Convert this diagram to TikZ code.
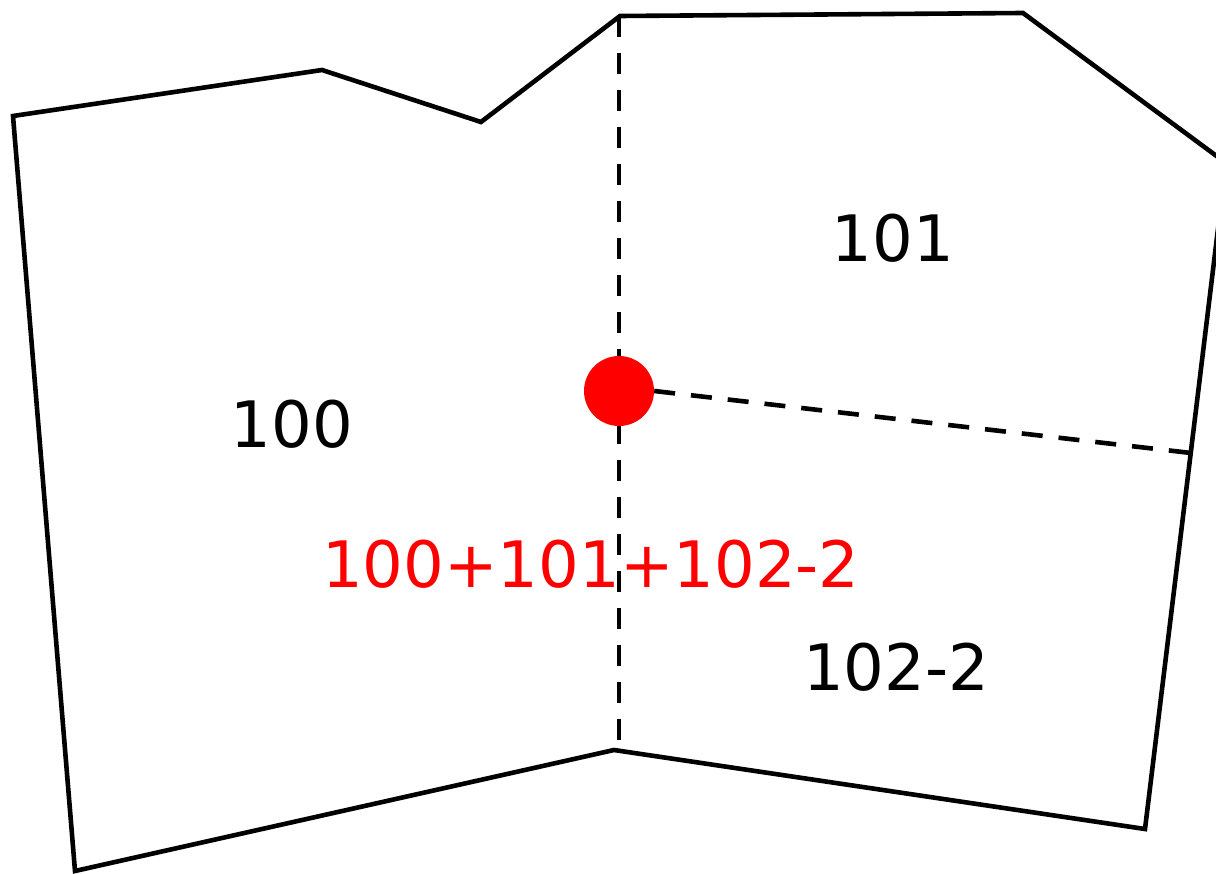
\documentclass[tikz,border=0pt]{standalone}
\usepackage{fontspec}
\setmainfont{DejaVu Sans}
\begin{document}
\begin{tikzpicture}[x=1pt,y=-1pt,
  outline/.style={line width=4.6pt, line join=miter},
  divider/.style={line width=4.6pt, dash pattern=on 21pt off 16pt},
  label/.style={font=\fontsize{64}{64}\selectfont, inner sep=0pt},
  joint/.style={circle, fill=red, minimum size=70pt, inner sep=0pt}]
\useasboundingbox (0,0) rectangle (1216,874);
\clip (0,0) rectangle (1216,874);
\coordinate (p1) at (13,116);
\coordinate (p2) at (322,70);
\coordinate (p3) at (481,122);
\coordinate (p4) at (620,16);
\coordinate (p5) at (1023,13);
\coordinate (p6) at (1226,163);
\coordinate (p7) at (1145,829);
\coordinate (p8) at (614,750);
\coordinate (p9) at (75,871);
\coordinate (top) at (619,16);
\coordinate (bot) at (619,748);
\coordinate (rt) at (1191,453);
\draw[outline] (p1) -- (p2) -- (p3) -- (p4) -- (p5) -- (p6) -- (p7) -- (p8) -- (p9) -- cycle;
\draw[divider] (top) -- (bot);
\node[joint] (dot) at (619,391) {};
\draw[divider] (dot.east) -- (rt);
\node[label] (a) at (292,424) {100};
\node[label] (b) at (893,238) {101};
\node[label] (c) at (896,667) {102-2};
\node[label, text=red] (d) at (591,564) {100+101+102-2};
\end{tikzpicture}
\end{document}
